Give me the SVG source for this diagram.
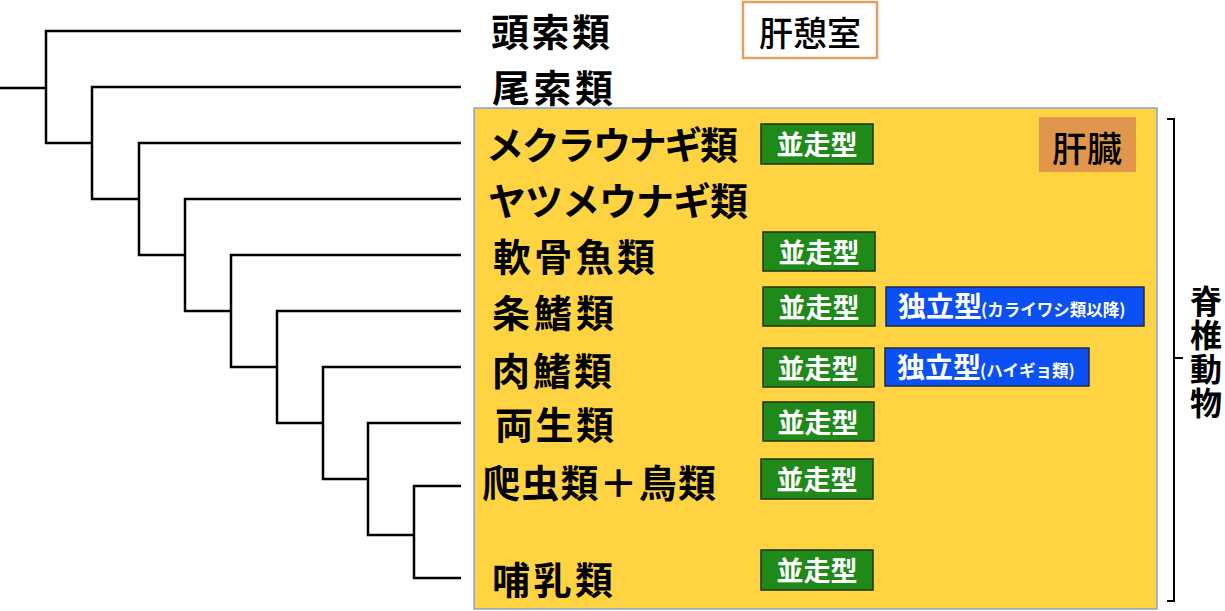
<svg xmlns="http://www.w3.org/2000/svg" width="1225" height="611" viewBox="0 0 1225 611">
<style>
.lbl{font-family:"Noto Sans CJK JP","Noto Sans CJK SC",sans-serif;font-size:38px;font-weight:bold;fill:#000;dominant-baseline:central}
.tree{fill:none;stroke:#000;stroke-width:2.5;stroke-linejoin:miter}
.gbox{fill:#1F8A1A;stroke:#1C3310;stroke-width:1.5}
.bbox{fill:#0A50F5;stroke:#1A2A50;stroke-width:1.5}
.wt{font-family:"Noto Sans CJK JP","Noto Sans CJK SC",sans-serif;font-weight:bold;fill:#fff;dominant-baseline:central}
.gt{font-size:27px;text-anchor:middle}
.bt{font-size:28px}
.st{font-size:16.5px}
.vt{font-family:"Noto Sans CJK JP","Noto Sans CJK SC",sans-serif;font-size:32px;font-weight:bold;fill:#000;writing-mode:vertical-rl;letter-spacing:2px}
</style>
<rect width="1225" height="611" fill="#fff"/>
<g id="vertebrata-box">
<rect x="474" y="108" width="683" height="501" fill="#FFD342" stroke="#7FA6D6" stroke-width="1.5"/>
</g>
<g id="connectors">
<path class="tree" d="M0 88 H46"/>
<path class="tree" d="M461 31 H46 V143 H92"/>
<path class="tree" d="M461 87 H92 V199 H139"/>
<path class="tree" d="M461 143 H139 V255 H185"/>
<path class="tree" d="M461 199 H185 V311 H231"/>
<path class="tree" d="M461 255 H231 V367 H277"/>
<path class="tree" d="M461 311 H277 V423 H323"/>
<path class="tree" d="M461 367 H323 V479 H368"/>
<path class="tree" d="M461 423 H368 V535 H414"/>
<path class="tree" d="M461 486 H414 V578 H461"/>
</g>
<g id="cephalochordata"><text class="lbl" x="491" y="29" textLength="119" lengthAdjust="spacing">頭索類</text></g>
<g id="urochordata"><text class="lbl" x="492" y="85" textLength="121" lengthAdjust="spacing">尾索類</text></g>
<g id="hagfish"><text class="lbl" x="486" y="142" textLength="252" lengthAdjust="spacing">メクラウナギ類</text></g>
<g id="lamprey"><text class="lbl" x="488" y="198" textLength="260" lengthAdjust="spacing">ヤツメウナギ類</text></g>
<g id="chondrichthyes"><text class="lbl" x="493" y="254" textLength="162" lengthAdjust="spacing">軟骨魚類</text></g>
<g id="actinopterygii"><text class="lbl" x="492" y="310" textLength="122" lengthAdjust="spacing">条鰭類</text></g>
<g id="sarcopterygii"><text class="lbl" x="492" y="368" textLength="120" lengthAdjust="spacing">肉鰭類</text></g>
<g id="amphibia"><text class="lbl" x="495" y="422" textLength="119" lengthAdjust="spacing">両生類</text></g>
<g id="reptilia-aves"><text class="lbl" x="482" y="480" textLength="234" lengthAdjust="spacing">爬虫類＋鳥類</text></g>
<g id="mammalia"><text class="lbl" x="492" y="577" textLength="121" lengthAdjust="spacing">哺乳類</text></g>
<g id="hepatic-diverticulum">
<rect x="743" y="2" width="134" height="56" fill="#fff" stroke="#E5A060" stroke-width="2.5"/>
<text x="810" y="31" font-family="Noto Sans CJK JP, sans-serif" font-size="34" font-weight="500" text-anchor="middle" dominant-baseline="central">肝憩室</text>
</g>
<g id="liver">
<rect x="1039" y="117" width="97" height="55" fill="#E0974C"/>
<text x="1087" y="146" font-family="Noto Sans CJK JP, sans-serif" font-size="35" font-weight="500" text-anchor="middle" dominant-baseline="central">肝臓</text>
</g>
<g id="parallel-hagfish"><rect class="gbox" x="761" y="124" width="112" height="40"/><text class="wt gt" x="817" y="143">並走型</text></g>
<g id="parallel-chondrichthyes"><rect class="gbox" x="763" y="232" width="112" height="39"/><text class="wt gt" x="819" y="251">並走型</text></g>
<g id="parallel-actinopterygii"><rect class="gbox" x="763" y="287" width="112" height="39"/><text class="wt gt" x="819" y="306">並走型</text></g>
<g id="independent-actinopterygii"><rect class="bbox" x="886" y="287" width="258" height="39"/><text class="wt bt" x="898" y="305">独立型</text><text class="wt st" x="981" y="309">(カライワシ類以降)</text></g>
<g id="parallel-sarcopterygii"><rect class="gbox" x="763" y="348" width="111" height="39"/><text class="wt gt" x="818" y="367">並走型</text></g>
<g id="independent-sarcopterygii"><rect class="bbox" x="885" y="348" width="204" height="38"/><text class="wt bt" x="897" y="366">独立型</text><text class="wt st" x="980" y="370">(ハイギョ類)</text></g>
<g id="parallel-amphibia"><rect class="gbox" x="763" y="402" width="111" height="39"/><text class="wt gt" x="818" y="421">並走型</text></g>
<g id="parallel-reptilia-aves"><rect class="gbox" x="761" y="459" width="112" height="40"/><text class="wt gt" x="817" y="478">並走型</text></g>
<g id="parallel-mammalia"><rect class="gbox" x="761" y="550" width="112" height="40"/><text class="wt gt" x="817" y="569">並走型</text></g>
<g id="vertebrata-bracket">
<path d="M1167 119 H1174 V601 H1167 M1174 358 H1183" fill="none" stroke="#000" stroke-width="2"/>
<text class="vt" x="1206" y="285">脊椎動物</text>
</g>
</svg>
